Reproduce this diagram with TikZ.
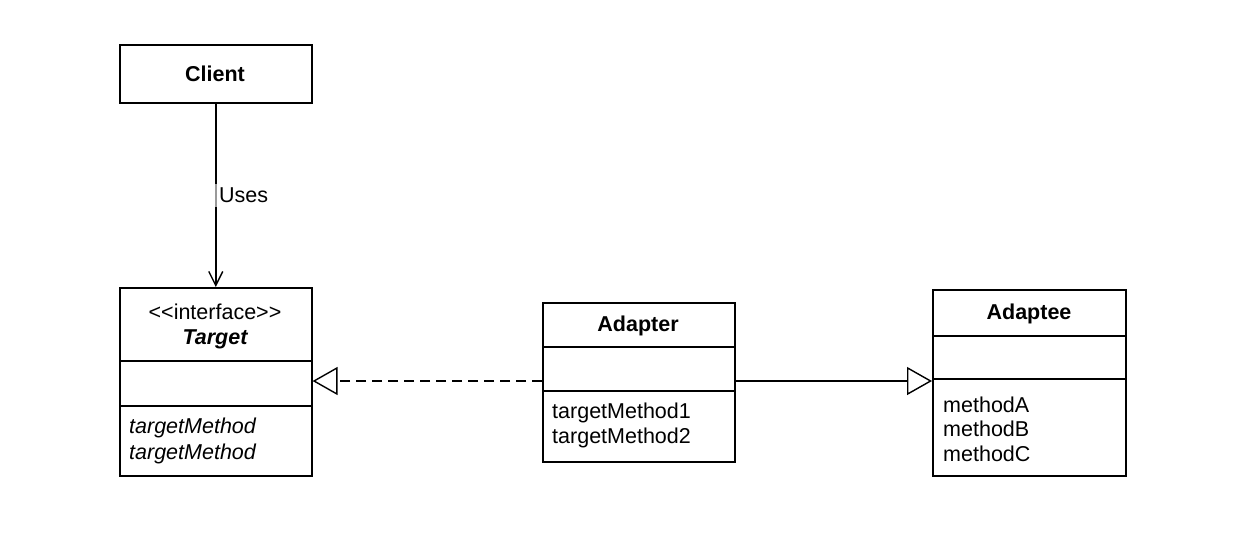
\documentclass[tikz,border=0pt]{standalone}
\usepackage{fontspec}
\setmainfont{Liberation Sans}[Ligatures=TeXOff]
\usetikzlibrary{arrows.meta}
\tikzset{
  box/.style={draw, line width=1.6pt, anchor=north west, inner sep=0pt},
  divider/.style={line width=1.6pt},
  title/.style={font=\fontsize{21.5}{26}\selectfont\bfseries, inner sep=0pt},
  txt/.style={font=\fontsize{21.5}{26}\selectfont, inner sep=0pt, anchor=west},
  conn/.style={line width=1.4pt},
  realize/.style={conn, dash pattern=on 10pt off 6pt, -{Triangle[open, length=25pt, width=28pt, line width=1.4pt]}},
  inherit/.style={conn, -{Triangle[open, length=25pt, width=28pt, line width=1.4pt]}},
  uses/.style={conn, -{Straight Barb[length=14pt, width=14pt, line width=1.4pt]}}
}
\begin{document}
\begin{tikzpicture}[x=1pt, y=-1pt]
\useasboundingbox (0,0) rectangle (1244,539);
% Client
\node[box, minimum width=192pt, minimum height=58pt] (client) at (119,44) {};
\node[title] (clientT) at (215,74) {Client};
% Target
\node[box, minimum width=192pt, minimum height=188pt] (target) at (119,287) {};
\draw[divider] (119,361) -- (311,361);
\draw[divider] (119,406) -- (311,406);
\node[font=\fontsize{21.5}{26}\selectfont, inner sep=0pt] (targetS) at (215,312) {<\kern0pt<interface>\kern0pt>};
\node[title, font=\fontsize{21.5}{26}\selectfont\bfseries\itshape] (targetT) at (215,339) {Target};
\node[txt, font=\fontsize{21.5}{26}\selectfont\itshape] (tm1) at (129,428) {targetMethod};
\node[txt, font=\fontsize{21.5}{26}\selectfont\itshape] (tm2) at (129,454) {targetMethod};
% Adapter
\node[box, minimum width=192pt, minimum height=159pt] (adapter) at (542,302) {};
\draw[divider] (542,347) -- (734,347);
\draw[divider] (542,391) -- (734,391);
\node[title] (adapterT) at (638,326) {Adapter};
\node[txt] (am1) at (552,413) {targetMethod1};
\node[txt] (am2) at (552,438) {targetMethod2};
% Adaptee
\node[box, minimum width=193pt, minimum height=186pt] (adaptee) at (932,289) {};
\draw[divider] (932,336) -- (1125,336);
\draw[divider] (932,379) -- (1125,379);
\node[title] (adapteeT) at (1029,314) {Adaptee};
\node[txt] (bm1) at (943,405) {methodA};
\node[txt] (bm2) at (943,429) {methodB};
\node[txt] (bm3) at (943,454) {methodC};
% connectors
\coordinate (adL) at (adapter.west |- 0,381);
\coordinate (tgR) at (target.east |- 0,381);
\coordinate (adR) at (adapter.east |- 0,381);
\coordinate (aeL) at (adaptee.west |- 0,381);
\draw[uses] (client.south) -- (target.north);
\node[txt, fill=white, fill opacity=0.6, text opacity=1, inner xsep=5pt, inner ysep=4pt] (usesL) at (214,195) {Uses};
\draw[realize] (adL) -- (tgR);
\draw[inherit] (adR) -- (aeL);
\end{tikzpicture}
\end{document}
